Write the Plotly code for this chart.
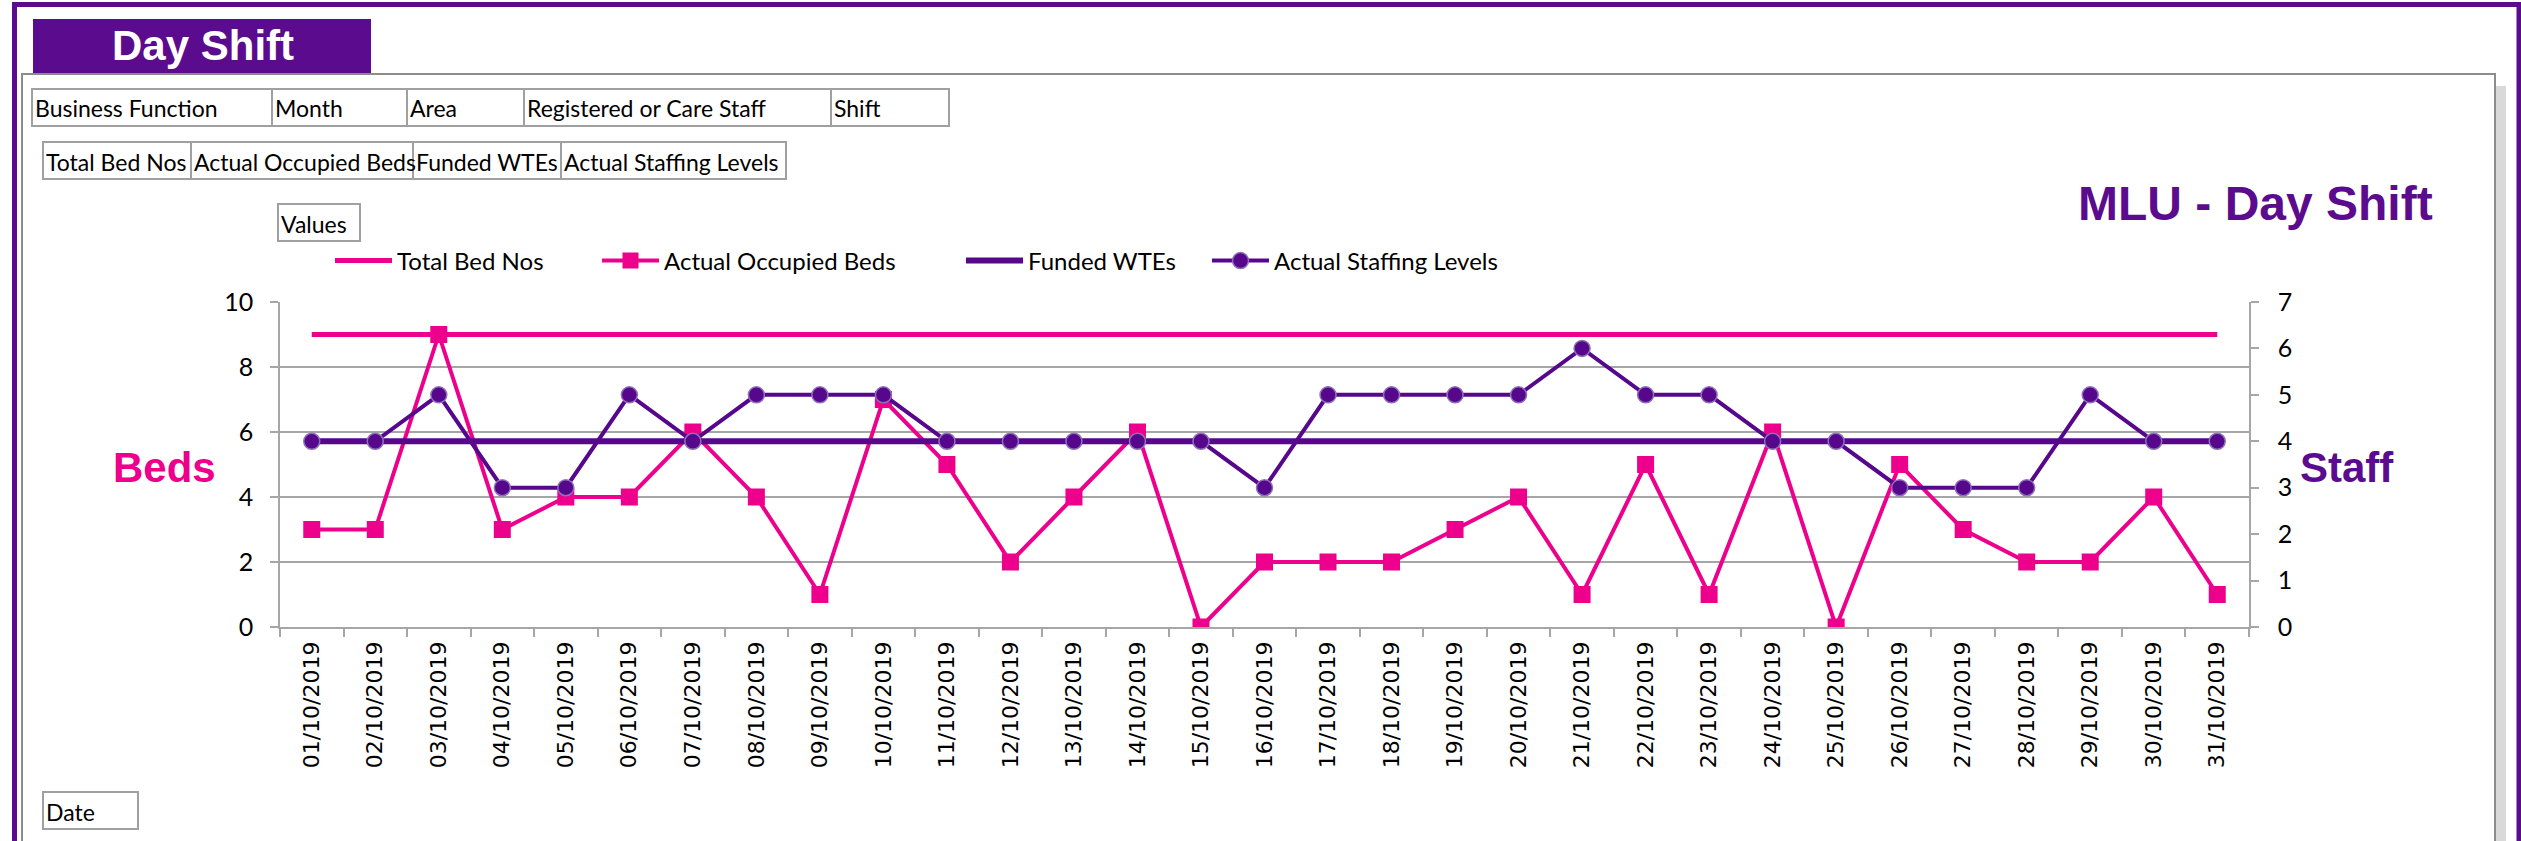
import plotly.graph_objects as go

W, H = 2521, 841

dates = ["%02d/10/2019" % d for d in range(1, 32)]
total_bed_nos = [9] * 31
actual_occupied_beds = [3, 3, 9, 3, 4, 4, 6, 4, 1, 7, 5, 2, 4, 6, 0, 2, 2, 2, 3, 4, 1, 5, 1, 6, 0, 5, 3, 2, 2, 4, 1]
funded_wtes = [4] * 31
actual_staffing_levels = [4, 4, 5, 3, 3, 5, 4, 5, 5, 5, 4, 4, 4, 4, 4, 3, 5, 5, 5, 5, 6, 5, 5, 4, 4, 3, 3, 3, 5, 4, 4]

PINK = "#EC008C"
PURPLE = "#56078C"
BOXPURPLE = "#5B0B8E"
GRID = "#A6A6A6"
LBL = "Lato"


def px(x):
    return x / W


def py(y):
    return 1 - y / H


fig = go.Figure()
fig.add_trace(go.Scatter(x=dates, y=total_bed_nos, name="Total Bed Nos", mode="lines",
                         line=dict(color=PINK, width=5), legend="legend"))
fig.add_trace(go.Scatter(x=dates, y=actual_occupied_beds, name="Actual Occupied Beds", mode="lines+markers",
                         line=dict(color=PINK, width=4),
                         marker=dict(symbol="square", size=17, color=PINK), legend="legend2"))
fig.add_trace(go.Scatter(x=dates, y=funded_wtes, name="Funded WTEs", mode="lines", yaxis="y2",
                         line=dict(color=PURPLE, width=6), legend="legend3"))
fig.add_trace(go.Scatter(x=dates, y=actual_staffing_levels, name="Actual Staffing Levels", mode="lines+markers",
                         yaxis="y2", line=dict(color=PURPLE, width=4),
                         marker=dict(symbol="circle", size=16, color=PURPLE,
                                     line=dict(color="#8E72B8", width=1.5)), legend="legend4"))

shapes = []
# outer purple frame
shapes.append(dict(type="rect", xref="paper", yref="paper", x0=px(14.5), x1=px(2519), y0=py(4.5), y1=py(860),
                   line=dict(color=BOXPURPLE, width=5), fillcolor="rgba(0,0,0,0)", layer="below"))
# shadow of inner panel
shapes.append(dict(type="rect", xref="paper", yref="paper", x0=px(2496), x1=px(2506), y0=py(86), y1=py(845),
                   line=dict(width=0), fillcolor="#D9D9D9", layer="below"))
# inner panel
shapes.append(dict(type="rect", xref="paper", yref="paper", x0=px(22), x1=px(2495), y0=py(74), y1=py(860),
                   line=dict(color="#8C8C8C", width=2), fillcolor="white", layer="below"))
# Day Shift header box
shapes.append(dict(type="rect", xref="paper", yref="paper", x0=px(33), x1=px(371), y0=py(19), y1=py(73),
                   line=dict(width=0), fillcolor=BOXPURPLE, layer="below"))

annotations = []
annotations.append(dict(text="<b>Day Shift</b>", x=px(203), y=py(45), xref="paper", yref="paper",
                        showarrow=False, xanchor="center", yanchor="middle",
                        font=dict(family="Liberation Sans", size=42, color="white")))

# field buttons
row1 = [("Business Function", 32, 272), ("Month", 272, 407), ("Area", 407, 524),
        ("Registered or Care Staff", 524, 831), ("Shift", 831, 949)]
row2 = [("Total Bed Nos", 43, 191), ("Actual Occupied Beds", 191, 413),
        ("Funded WTEs", 413, 561), ("Actual Staffing Levels", 561, 786)]
others = [("Values", 278, 360, 204, 241), ("Date", 43, 138, 792, 829)]
boxes = [(t, a, b, 89, 126) for t, a, b in row1] + [(t, a, b, 142, 179) for t, a, b in row2] + others
for t, a, b, top, bot in boxes:
    shapes.append(dict(type="rect", xref="paper", yref="paper", x0=px(a), x1=px(b), y0=py(top), y1=py(bot),
                       line=dict(color="#A0A0A0", width=2), fillcolor="white", layer="below"))
    annotations.append(dict(text=t, x=px(a + 1), y=py((top + bot) / 2 + 1), xref="paper", yref="paper",
                            showarrow=False, xanchor="left", yanchor="middle",
                            font=dict(family=LBL, size=23, color="black")))

annotations.append(dict(text="<b>MLU - Day Shift</b>", x=px(2255), y=py(203), xref="paper", yref="paper",
                        showarrow=False, xanchor="center", yanchor="middle",
                        font=dict(family="Liberation Sans", size=48, color=BOXPURPLE)))
annotations.append(dict(text="<b>Beds</b>", x=px(164), y=py(467), xref="paper", yref="paper",
                        showarrow=False, xanchor="center", yanchor="middle",
                        font=dict(family="Liberation Sans", size=42, color=PINK)))
annotations.append(dict(text="<b>Staff</b>", x=px(2347), y=py(467), xref="paper", yref="paper",
                        showarrow=False, xanchor="center", yanchor="middle",
                        font=dict(family="Liberation Sans", size=42, color=BOXPURPLE)))

legend_common = dict(orientation="h", xanchor="left", yanchor="middle", bgcolor="rgba(0,0,0,0)",
                     font=dict(family=LBL, size=24, color="black"), itemwidth=57, borderwidth=0)

fig.update_layout(
    width=W, height=H, autosize=False,
    margin=dict(l=0, r=0, t=0, b=0, pad=0),
    paper_bgcolor="white", plot_bgcolor="rgba(0,0,0,0)",
    template="none",
    showlegend=True,
    legend=dict(x=px(330), y=py(261), **legend_common),
    legend2=dict(x=px(597), y=py(261), **legend_common),
    legend3=dict(x=px(961), y=py(261), **legend_common),
    legend4=dict(x=px(1207), y=py(261), **legend_common),
    xaxis=dict(domain=[px(280), px(2249)], type="category", range=[-0.5, len(dates) - 0.5],
               autorange=False, tickangle=-90,
               tickfont=dict(family="DejaVu Sans", size=22, color="black"),
               ticks="outside", tickson="boundaries", ticklen=8, tickwidth=1.5, tickcolor=GRID,
               showline=True, linecolor=GRID, linewidth=1.5, showgrid=False, zeroline=False,
               automargin=False, ticklabelstandoff=4, fixedrange=True),
    yaxis=dict(domain=[py(627), py(302)], range=[0, 10], autorange=False, dtick=2, tick0=0,
               tickfont=dict(family=LBL, size=25, color="black"),
               ticks="outside", ticklen=8, tickwidth=1.5, tickcolor=GRID,
               showline=True, linecolor=GRID, linewidth=1.5,
               showgrid=True, gridcolor=GRID, gridwidth=1.5, zeroline=False,
               automargin=False, ticklabelstandoff=12),
    yaxis2=dict(overlaying="y", side="right", range=[0, 7], autorange=False, dtick=1, tick0=0,
                tickfont=dict(family=LBL, size=25, color="black"),
                ticks="outside", ticklen=8, tickwidth=1.5, tickcolor=GRID,
                showline=True, linecolor=GRID, linewidth=1.5,
                showgrid=False, zeroline=False, automargin=False, ticklabelstandoff=14),
    shapes=shapes,
    annotations=annotations,
)

fig.write_html("out.html", config={"displayModeBar": False},
               post_script="document.body.style.margin='0px';document.body.style.padding='0px';"
                           "document.body.style.overflow='hidden';")
